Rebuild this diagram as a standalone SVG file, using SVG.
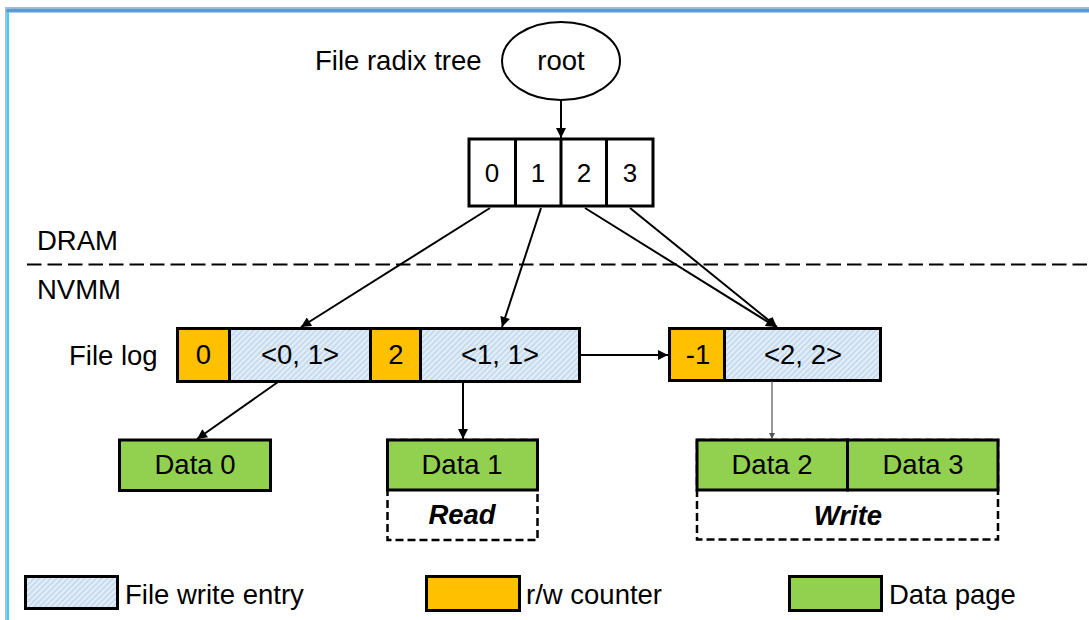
<svg xmlns="http://www.w3.org/2000/svg" width="1089" height="620" viewBox="0 0 1089 620">
<style>
text{font-family:"Liberation Sans",Arial,sans-serif;font-size:27.5px;fill:#000}
.c{text-anchor:middle}
.box{stroke:#000;stroke-width:3}
.ent{fill:url(#hatch)}
.cnt{fill:#ffc000}
.dat{fill:#92d050}
.ln{stroke:#000;stroke-width:2;fill:none}
.dash{fill:none;stroke:#000;stroke-width:2.5;stroke-dasharray:8 4}
.dig{font-size:26px}
</style>
<defs>
<pattern id="hatch" width="4" height="4" patternUnits="userSpaceOnUse" patternTransform="rotate(45)">
<rect width="4" height="4" fill="#e4eef8"/>
<line x1="1" y1="0" x2="1" y2="4" stroke="#b3cfea" stroke-width="1.2"/>
</pattern>
<marker id="ah" viewBox="0 0 10 10" refX="10" refY="5" markerWidth="11" markerHeight="10" markerUnits="userSpaceOnUse" orient="auto">
<path d="M0,0 L10,5 L0,10 z" fill="#000"/>
</marker>
<marker id="ahs" viewBox="0 0 10 10" refX="10" refY="5" markerWidth="7" markerHeight="6" markerUnits="userSpaceOnUse" orient="auto">
<path d="M0,0 L10,5 L0,10 z" fill="#555"/>
</marker>
</defs>
<rect width="1089" height="620" fill="#fff"/>
<!-- frame -->
<rect x="5" y="7" width="1084" height="1.5" fill="#b0b8c0"/>
<rect x="6" y="8.5" width="1083" height="4" fill="#5b9bd5"/>
<rect x="5" y="7" width="1.5" height="613" fill="#b0b8c0"/>
<rect x="6.5" y="12" width="2.5" height="608" fill="#3ad0f0"/>

<!-- region divider -->
<g id="divider">
<line x1="27" y1="264.5" x2="1089" y2="264.5" stroke="#000" stroke-width="2.2" stroke-dasharray="14.5 6"/>
<text x="37" y="250">DRAM</text>
<text x="37" y="299">NVMM</text>
</g>

<g id="root">
<text x="315" y="70">File radix tree</text>
<ellipse cx="561" cy="61" rx="59" ry="39" fill="#fff" stroke="#000" stroke-width="2"/>
<text class="c" x="561" y="70">root</text>
</g>

<g id="radix-array">
<rect class="box" x="469" y="139" width="184" height="67" fill="#fff"/>
<line x1="515.5" y1="139" x2="515.5" y2="206" stroke="#000" stroke-width="3"/>
<line x1="561" y1="139" x2="561" y2="206" stroke="#000" stroke-width="3"/>
<line x1="606.5" y1="139" x2="606.5" y2="206" stroke="#000" stroke-width="3"/>
<text class="c dig" x="492" y="182">0</text>
<text class="c dig" x="538" y="182">1</text>
<text class="c dig" x="584" y="182">2</text>
<text class="c dig" x="630" y="182">3</text>
</g>

<g id="file-log">
<text x="69" y="365">File log</text>
<g id="log-entry-0">
<rect class="box cnt" x="177.5" y="328.5" width="52" height="53"/>
<rect class="box ent" x="229.5" y="328.5" width="141" height="53"/>
<text class="c" x="203.5" y="364">0</text>
<text class="c" x="300" y="364">&lt;0, 1&gt;</text>
</g>
<g id="log-entry-1">
<rect class="box cnt" x="370.5" y="328.5" width="50" height="53"/>
<rect class="box ent" x="420.5" y="328.5" width="159" height="53"/>
<text class="c" x="396" y="364">2</text>
<text class="c" x="500" y="364">&lt;1, 1&gt;</text>
</g>
<g id="log-entry-2">
<rect class="box cnt" x="669.5" y="328.5" width="55" height="52"/>
<rect class="box ent" x="724.5" y="328.5" width="156" height="52"/>
<text class="c" x="698" y="364">-1</text>
<text class="c" x="803" y="364">&lt;2, 2&gt;</text>
</g>
</g>

<g id="data0">
<rect class="box dat" x="119.5" y="440" width="151" height="50.5"/>
<text class="c" x="195" y="474">Data 0</text>
</g>
<g id="data1">
<rect class="dash" x="387.5" y="440" width="150" height="100"/>
<rect class="box dat" x="387.5" y="440" width="150" height="50"/>
<text class="c" x="462" y="474">Data 1</text>
<text class="c" x="462" y="524" style="font-weight:bold;font-style:italic">Read</text>
</g>
<g id="data23">
<rect class="dash" x="697" y="440" width="301" height="99.5"/>
<rect class="box dat" x="697" y="440" width="150.5" height="50"/>
<rect class="box dat" x="847.5" y="440" width="150.5" height="50"/>
<text class="c" x="772" y="474">Data 2</text>
<text class="c" x="923" y="474">Data 3</text>
<text class="c" x="848" y="525" style="font-weight:bold;font-style:italic">Write</text>
</g>

<g id="connectors">
<line class="ln" x1="561" y1="100" x2="561" y2="138" marker-end="url(#ah)"/>
<line class="ln" x1="490" y1="208" x2="301" y2="327" marker-end="url(#ah)"/>
<line class="ln" x1="541" y1="208" x2="502" y2="327" marker-end="url(#ah)"/>
<line class="ln" x1="585" y1="208" x2="776" y2="327" marker-end="url(#ah)"/>
<line class="ln" x1="630" y1="208" x2="777" y2="327" marker-end="url(#ah)"/>
<line class="ln" x1="580" y1="355" x2="668" y2="355" marker-end="url(#ah)"/>
<line class="ln" x1="278" y1="382" x2="197" y2="439" marker-end="url(#ah)"/>
<line class="ln" x1="463" y1="382" x2="463" y2="439" marker-end="url(#ah)"/>
<line x1="772" y1="381" x2="772" y2="439" stroke="#555" stroke-width="1.2" marker-end="url(#ahs)"/>
</g>

<g id="legend">
<rect class="box ent" x="25.5" y="576.5" width="92" height="32"/>
<text x="125" y="604">File write entry</text>
<rect class="box cnt" x="426.5" y="576.5" width="93" height="34"/>
<text x="526" y="604">r/w counter</text>
<rect class="box dat" x="789.5" y="576.5" width="92" height="34"/>
<text x="889" y="604">Data page</text>
</g>
</svg>
